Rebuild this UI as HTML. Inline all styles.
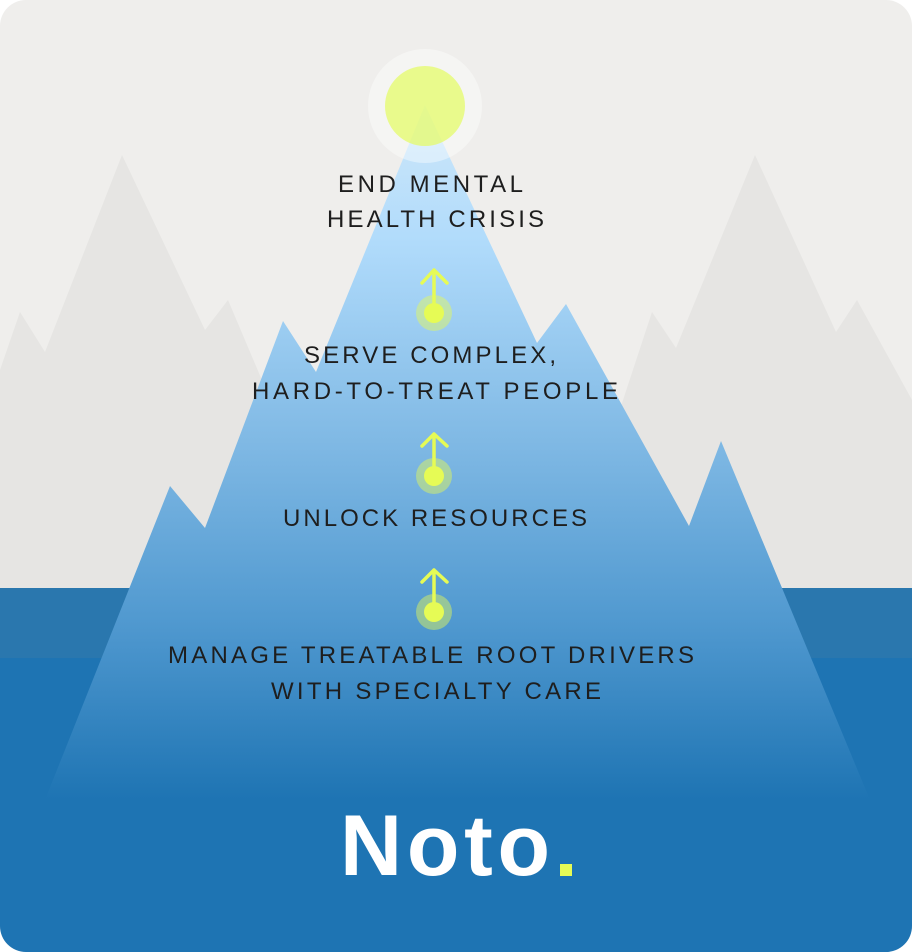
<!DOCTYPE html>
<html><head><meta charset="utf-8"><style>
html,body{margin:0;padding:0;background:#fff;}
svg{display:block;}
</style></head><body>
<svg width="912" height="952" viewBox="0 0 912 952" xmlns="http://www.w3.org/2000/svg">
<defs>
<clipPath id="c"><rect x="0" y="0" width="912" height="952" rx="26" ry="26"/></clipPath>
<linearGradient id="m" x1="0" y1="105" x2="0" y2="800" gradientUnits="userSpaceOnUse">
<stop offset="0" stop-color="#cfe8fa"/>
<stop offset="0.2" stop-color="#b0dbfb"/>
<stop offset="0.5" stop-color="#7db7e3"/>
<stop offset="0.75" stop-color="#4f98cf"/>
<stop offset="1" stop-color="#1e74b3"/>
</linearGradient>
</defs>
<g clip-path="url(#c)">
<rect width="912" height="952" fill="#efeeec"/>
<polygon fill="#e6e5e3" points="0,370 20,312 45,352 122,155 205,330 228,300 300,470 300,588 0,588"/>
<polygon fill="#e6e5e3" points="912,400 857,300 836,332 755,155 676,348 652,312 600,470 600,588 912,588"/>
<rect x="0" y="588" width="912" height="70" fill="#2a77ae"/>
<rect x="0" y="658" width="912" height="294" fill="#1e74b3"/>
<polygon fill="url(#m)" points="425,105 537,343 566,304 689,526 721,441 870,800 45,800 170,486 205,528 283,321 316,372"/>
<circle cx="425" cy="106" r="57" fill="#ffffff" fill-opacity="0.4"/>
<circle cx="425" cy="106" r="40" fill="#e4fb6a" fill-opacity="0.75"/>
<g stroke="#e6fb55" stroke-width="3.5" fill="none" stroke-linecap="round" stroke-linejoin="round">
<path d="M434,270 V312 M422,283 L434,270 L447,283"/>
<path d="M434,434 V474 M422,446 L434,434 L447,446"/>
<path d="M434,570 V611 M422,582 L434,570 L447,582"/>
</g>
<g fill="#e6fb55">
<circle cx="434" cy="313" r="18" fill-opacity="0.45"/><circle cx="434" cy="313" r="10"/>
<circle cx="434" cy="476" r="18" fill-opacity="0.45"/><circle cx="434" cy="476" r="10"/>
<circle cx="434" cy="612" r="18" fill-opacity="0.45"/><circle cx="434" cy="612" r="10"/>
</g>
<g font-family="Liberation Sans, sans-serif" font-size="24" fill="#1e1e1e">
<text x="338" y="192" textLength="185" lengthAdjust="spacing">END MENTAL</text>
<text x="327" y="227" textLength="217" lengthAdjust="spacing">HEALTH CRISIS</text>
<text x="304" y="363" textLength="252" lengthAdjust="spacing">SERVE COMPLEX,</text>
<text x="252" y="399" textLength="366" lengthAdjust="spacing">HARD-TO-TREAT PEOPLE</text>
<text x="283" y="526" textLength="304" lengthAdjust="spacing">UNLOCK RESOURCES</text>
<text x="168" y="663" textLength="526" lengthAdjust="spacing">MANAGE TREATABLE ROOT DRIVERS</text>
<text x="271" y="699" textLength="330" lengthAdjust="spacing">WITH SPECIALTY CARE</text>
</g>
<text x="340" y="875" font-family="Liberation Sans, sans-serif" font-weight="bold" font-size="86" fill="#fff" textLength="210" lengthAdjust="spacing">Noto</text>
<rect x="560" y="864" width="12" height="12" fill="#e6fb55"/>
</g>
</svg>
</body></html>
